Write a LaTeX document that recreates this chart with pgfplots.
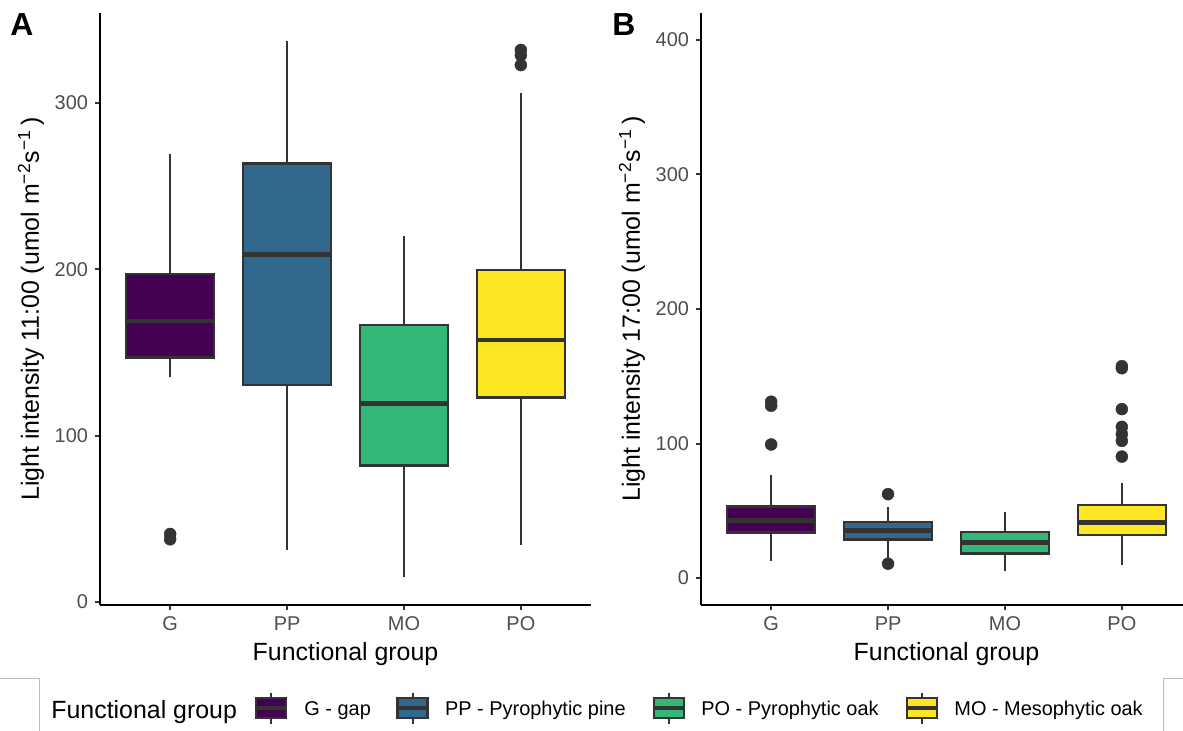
\documentclass[border=0pt]{standalone}
\usepackage{fontspec}
\setmainfont{Liberation Sans}
\usepackage{pgfplots}
\pgfplotsset{compat=1.18}
\usepgfplotslibrary{statistics}

\definecolor{cG}{HTML}{440154}
\definecolor{cPP}{HTML}{31688E}
\definecolor{cMO}{HTML}{35B779}
\definecolor{cPO}{HTML}{FDE725}
\definecolor{c33}{HTML}{333333}
\definecolor{c4D}{HTML}{4D4D4D}
\definecolor{cFr}{HTML}{BEBEBE}

\pgfplotsset{
 ggbox/.style={
   scale only axis, width=245.5bp, height=296bp,
   axis x line*=bottom, axis y line*=left,
   axis line style={line width=1bp, black, -},
   xmin=0.4, xmax=4.6,
   xtick={1,2,3,4}, xticklabels={G,PP,MO,PO},
   tick align=outside, major tick length=2.5bp,
   every tick/.style={c33, line width=1bp},
   tick label style={font=\fontsize{10}{12}\selectfont, text=c4D},
   /pgf/number format/assume math mode=true,
   label style={font=\fontsize{12.5}{15}\selectfont},
   xlabel={Functional group},
   xlabel style={at={(axis description cs:0.5,-0.0929)}, anchor=base},
   ylabel style={at={(axis description cs:-0.1405,0.5)}, anchor=center},
   boxplot/draw direction=y,
   boxplot/box extend=0.75,
   boxplot/every box/.style={draw=c33, line width=1.15bp},
   boxplot/every whisker/.style={c33, line width=1.05bp},
   boxplot/every median/.style={c33, line width=2.3bp},
   boxplot/draw/lower whisker/.code={
     \draw[/pgfplots/boxplot/every whisker/.try]
       (boxplot cs:\pgfplotsboxplotvalue{lower whisker}) -- (boxplot cs:\pgfplotsboxplotvalue{lower quartile});
   },
   boxplot/draw/upper whisker/.code={
     \draw[/pgfplots/boxplot/every whisker/.try]
       (boxplot cs:\pgfplotsboxplotvalue{upper quartile}) -- (boxplot cs:\pgfplotsboxplotvalue{upper whisker});
   },
   clip=false,
 },
 gbp/.style={fill=#1, draw=c33, mark=*, mark size=3bp, mark options={fill=c33, draw=c33, line width=0.2bp}},
}

\begin{document}
\begin{tikzpicture}

% ---------------- Panel A ----------------
\begin{axis}[ggbox, at={(50bp,-302.5bp)}, anchor=south west,
  ymin=-1.8, ymax=354, ytick={0,100,200,300},
  ylabel={Light intensity 11:00 (umol m\textsuperscript{−2}s\textsuperscript{−1}\,)}]
\addplot[gbp=cG, boxplot prepared={draw position=1, lower whisker=135.3, lower quartile=147, median=169, upper quartile=197, upper whisker=269.3}]
  table[row sep=\\, y index=0] {y\\ 40.9\\ 37.7\\};
\addplot[gbp=cPP, boxplot prepared={draw position=2, lower whisker=31.2, lower quartile=130.6, median=208.7, upper quartile=263.6, upper whisker=337}]
  coordinates {};
\addplot[gbp=cMO, boxplot prepared={draw position=3, lower whisker=15.1, lower quartile=82, median=119.2, upper quartile=166.5, upper whisker=219.9}]
  coordinates {};
\addplot[gbp=cPO, boxplot prepared={draw position=4, lower whisker=34.3, lower quartile=123, median=157.4, upper quartile=199.6, upper whisker=305.7}]
  table[row sep=\\, y index=0] {y\\ 331.8\\ 328.6\\ 322.7\\};
\end{axis}

% ---------------- Panel B ----------------
\begin{axis}[ggbox, at={(350.5bp,-302.5bp)}, anchor=south west,
  ymin=-20, ymax=420, ytick={0,100,200,300,400},
  ylabel={Light intensity 17:00 (umol m\textsuperscript{−2}s\textsuperscript{−1}\,)}]
\addplot[gbp=cG, boxplot prepared={draw position=1, lower whisker=12.9, lower quartile=33.8, median=43, upper quartile=53.2, upper whisker=76.4}]
  table[row sep=\\, y index=0] {y\\ 131.1\\ 128.1\\ 99.3\\};
\addplot[gbp=cPP, boxplot prepared={draw position=2, lower whisker=14, lower quartile=28.6, median=35.3, upper quartile=41.5, upper whisker=52.7}]
  table[row sep=\\, y index=0] {y\\ 62.4\\ 10.7\\};
\addplot[gbp=cMO, boxplot prepared={draw position=3, lower whisker=5.2, lower quartile=18.2, median=26.4, upper quartile=34.3, upper whisker=48.8}]
  coordinates {};
\addplot[gbp=cPO, boxplot prepared={draw position=4, lower whisker=9.7, lower quartile=31.8, median=41.5, upper quartile=54.5, upper whisker=70.6}]
  table[row sep=\\, y index=0] {y\\ 157.5\\ 156\\ 125.6\\ 112.4\\ 107\\ 102\\ 90.3\\};
\end{axis}

% panel tags
\node[font=\bfseries\fontsize{16}{18}\selectfont, inner sep=0pt] at (11bp,-12.25bp) {A};
\node[font=\bfseries\fontsize{16}{18}\selectfont, inner sep=0pt] at (312bp,-12.25bp) {B};

% legend
\node[font=\fontsize{12.5}{15}\selectfont, anchor=base west, inner sep=0pt] at (25.5bp,-359bp) {Functional group};
\foreach \cx/\col/\tx/\lab in {135.6/cG/152/{G - gap}, 206.3/cPP/222.35/{PP - Pyrophytic pine}, 334.45/cMO/350.5/{PO - Pyrophytic oak}, 460.9/cPO/477/{MO - Mesophytic oak}}{
  \draw[c33, line width=1.05bp] (\cx bp,-346.5bp) -- (\cx bp,-362bp);
  \draw[fill=\col, draw=c33, line width=1.15bp] (\cx bp-7.5bp,-349bp) rectangle (\cx bp+7.5bp,-359bp);
  \draw[c33, line width=1.6bp] (\cx bp-7.5bp,-354bp) -- (\cx bp+7.5bp,-354bp);
  \node[font=\fontsize{10}{12}\selectfont, anchor=base west, inner sep=0pt] at (\tx bp,-357.6bp) {\lab};
}

% clipped frame remnants
\draw[cFr, line width=0.5bp] (0bp,-339bp) -- (19.5bp,-339bp) -- (19.5bp,-366bp);
\draw[cFr, line width=0.5bp] (592bp,-339bp) -- (581.5bp,-339bp) -- (581.5bp,-366bp);

\pgfresetboundingbox
\useasboundingbox (0,0) rectangle (591.5bp,-365.5bp);
\end{tikzpicture}
\end{document}
